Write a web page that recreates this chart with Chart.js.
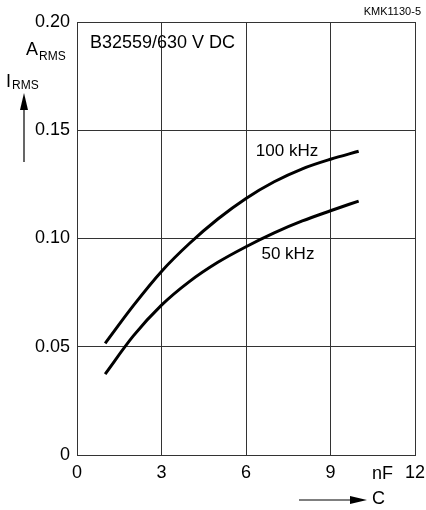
<!DOCTYPE html>
<html>
<head>
<meta charset="utf-8">
<script src="https://cdn.jsdelivr.net/npm/chart.js@4"></script>
<style>
  body { margin: 0; background: #fff; }
</style>
</head>
<body>
<canvas id="chart" width="426" height="510"></canvas>
<script>
// capacitance in nF
const capacitance = [1, 2, 3, 4, 5, 6, 7, 8, 9, 10];
// I_RMS in A
const irms100k = [0.0516, 0.0690, 0.0848, 0.0978, 0.1090, 0.1185, 0.1262, 0.1322, 0.1366, 0.1403];
const irms50k = [0.0374, 0.0550, 0.0692, 0.0802, 0.0890, 0.0962, 0.1026, 0.1081, 0.1128, 0.1173];
const xTicks = [0, 3, 6, 9, 12];
const yTicks = [0, 0.05, 0.1, 0.15, 0.2];
const yTickLabels = ["0", "0.05", "0.10", "0.15", "0.20"];

const FONT = "'Liberation Sans', Arial, sans-serif";
const GRID = "#333";

function toPoints(ys) {
  return capacitance.map((x, i) => ({ x: x, y: ys[i] }));
}

// texts that are not ticks: labels, units, arrows
const annotations = {
  id: "annotations",
  afterDraw(chart) {
    const ctx = chart.ctx;
    const xs = chart.scales.x;
    const ys = chart.scales.y;
    ctx.save();
    ctx.fillStyle = "#000";
    ctx.strokeStyle = "#000";

    ctx.font = "11px " + FONT;
    ctx.textAlign = "right";
    ctx.textBaseline = "alphabetic";
    ctx.fillText("KMK1130-5", 421, 15);

    ctx.font = "18px " + FONT;
    ctx.textAlign = "left";
    ctx.textBaseline = "middle";
    ctx.fillText("B32559/630 V DC", 90, 43);
    ctx.font = "17px " + FONT;
    ctx.fillText("100 kHz", xs.getPixelForValue(6.35), ys.getPixelForValue(0.1405));
    ctx.fillText("50 kHz", xs.getPixelForValue(6.55), ys.getPixelForValue(0.0925));

    // y axis label
    ctx.font = "18px " + FONT;
    ctx.textBaseline = "alphabetic";
    ctx.fillText("A", 26, 55);
    ctx.fillText("I", 6, 87);
    ctx.font = "12px " + FONT;
    ctx.fillText("RMS", 39, 60);
    ctx.fillText("RMS", 12, 89);

    ctx.lineWidth = 1.2;
    ctx.beginPath();
    ctx.moveTo(24, 162);
    ctx.lineTo(24, 105);
    ctx.stroke();
    ctx.beginPath();
    ctx.moveTo(24, 93);
    ctx.lineTo(20, 110);
    ctx.lineTo(28, 110);
    ctx.closePath();
    ctx.fill();

    // x axis label
    ctx.font = "18px " + FONT;
    ctx.textAlign = "center";
    ctx.textBaseline = "top";
    ctx.fillText("nF", xs.getPixelForValue(10.85), 465);

    ctx.beginPath();
    ctx.moveTo(299, 500);
    ctx.lineTo(355, 500);
    ctx.stroke();
    ctx.beginPath();
    ctx.moveTo(367, 500);
    ctx.lineTo(350, 496);
    ctx.lineTo(350, 504);
    ctx.closePath();
    ctx.fill();
    ctx.textAlign = "left";
    ctx.textBaseline = "middle";
    ctx.fillText("C", 372, 499);
    ctx.restore();
  }
};

new Chart(document.getElementById("chart"), {
  type: "line",
  data: {
    datasets: [
      {
        label: "100 kHz",
        data: toPoints(irms100k),
        borderColor: "#000",
        borderWidth: 3,
        pointRadius: 0,
        cubicInterpolationMode: "monotone",
        fill: false,
      },
      {
        label: "50 kHz",
        data: toPoints(irms50k),
        borderColor: "#000",
        borderWidth: 3,
        pointRadius: 0,
        cubicInterpolationMode: "monotone",
        fill: false,
      },
    ],
  },
  options: {
    responsive: false,
    animation: false,
    devicePixelRatio: 1,
    layout: { padding: { top: 22, right: 11, left: 0, bottom: 0 } },
    plugins: {
      legend: { display: false },
      tooltip: { enabled: false },
    },
    scales: {
      x: {
        type: "linear",
        min: 0,
        max: 12,
        afterBuildTicks: (scale) => {
          scale.ticks = xTicks.map((v) => ({ value: v }));
        },
        afterFit: (scale) => {
          scale.height = 55;
          scale.paddingLeft = 0;
          scale.paddingRight = 0;
        },
        ticks: {
          color: "#000",
          font: { family: FONT, size: 18 },
          padding: 7,
          maxRotation: 0,
          callback: (v) => String(v),
        },
        grid: { color: GRID, lineWidth: 1, drawTicks: false },
        border: { color: GRID, width: 1 },
      },
      y: {
        type: "linear",
        min: 0,
        max: 0.2,
        afterBuildTicks: (scale) => {
          scale.ticks = yTicks.map((v) => ({ value: v }));
        },
        afterFit: (scale) => {
          scale.width = 77;
          scale.paddingTop = 0;
          scale.paddingBottom = 0;
        },
        ticks: {
          color: "#000",
          font: { family: FONT, size: 18 },
          padding: 7,
          callback: (v, i) => yTickLabels[i],
        },
        grid: { color: GRID, lineWidth: 1, drawTicks: false },
        border: { color: GRID, width: 1 },
      },
    },
  },
  plugins: [annotations],
});
</script>
</body>
</html>
